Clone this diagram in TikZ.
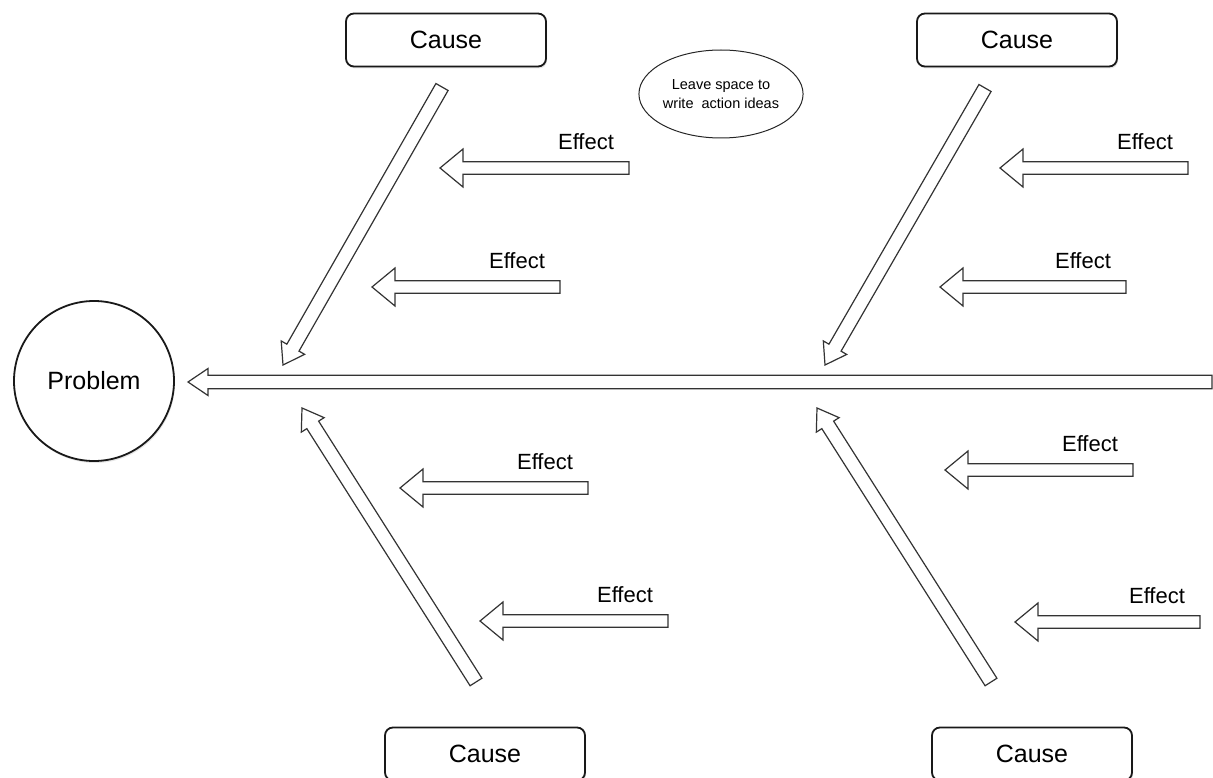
\documentclass[tikz,border=0pt]{standalone}
\usepackage{fontspec}
\setmainfont{Liberation Sans}
\usetikzlibrary{calc,shadows,shapes.geometric}

% hollow block arrow: from, to, half shaft, half head, head length
\newcommand\blockarrow[5]{%
  \coordinate (ba-base) at ($(#2)!#5!(#1)$);
  \draw[blockline] ($(#1)!#3!90:(#2)$) -- ($(ba-base)!#3!90:(#2)$)
    -- ($(ba-base)!#4!90:(#2)$) -- (#2) -- ($(ba-base)!#4!-90:(#2)$)
    -- ($(ba-base)!#3!-90:(#2)$) -- ($(#1)!#3!-90:(#2)$) -- cycle;}

\tikzset{
  blockline/.style={draw=black!80,fill=white,line width=1.2pt,line join=miter},
  causebox/.style={draw=black!90,fill=white,line width=1.8pt,rounded corners=8pt,
    minimum width=200pt,minimum height=53pt,
    drop shadow={opacity=0.2,shadow xshift=1pt,shadow yshift=-2pt},
    font=\fontsize{25}{30}\selectfont},
  problem/.style={circle,draw=black!90,fill=white,line width=1.8pt,
    minimum size=160pt,inner sep=0pt,
    drop shadow={opacity=0.2,shadow xshift=1pt,shadow yshift=-2pt},
    font=\fontsize{25}{30}\selectfont},
  note/.style={ellipse,draw=black!85,line width=1pt,minimum width=136pt,
    minimum height=88pt,inner sep=0pt,align=center,
    font=\fontsize{14.5}{19}\selectfont},
  effect/.style={font=\fontsize{22}{26}\selectfont,inner sep=0pt}
}

\begin{document}
\begin{tikzpicture}[x=1pt,y=-1pt]
\useasboundingbox (0,0) rectangle (1213,778);

% head and spine
\node[problem] (problem) at (94,381) {Problem};
\coordinate (spine-t) at (1212,382);
\coordinate (spine-h) at (188,382);
\blockarrow{spine-t}{spine-h}{6.7pt}{13.5pt}{20pt}

% causes
\node[causebox] (cause1) at (446,40) {Cause};
\node[causebox] (cause2) at (1017,40) {Cause};
\node[causebox] (cause3) at (485,754) {Cause};
\node[causebox] (cause4) at (1032,754) {Cause};

\foreach \n/\tx/\ty/\hx/\hy in {c1/442/87/283/365, c2/985/88/825/365,
    c3/476/682/302/408, c4/991/682/817/408} {
  \coordinate (\n-t) at (\tx,\ty);
  \coordinate (\n-h) at (\hx,\hy);
  \blockarrow{\n-t}{\n-h}{7pt}{13.5pt}{20pt}
}

% effects
\foreach \n/\tx/\hx/\y in {l1/629/440/168, l2/560/372/287, l3/588/400/488,
    l4/668/480/621, r1/1188/1000/168, r2/1126/940/287, r3/1133/945/470,
    r4/1200/1015/622} {
  \coordinate (\n-t) at (\tx,\y);
  \coordinate (\n-h) at (\hx,\y);
  \blockarrow{\n-t}{\n-h}{6.3pt}{19pt}{23pt}
  \node[effect] (\n-lab) at ($(\n-t)+(-43,-26)$) {Effect};
}

\node[note] (note) at (721,94) {Leave space to\\write\ \ action ideas};
\end{tikzpicture}
\end{document}
